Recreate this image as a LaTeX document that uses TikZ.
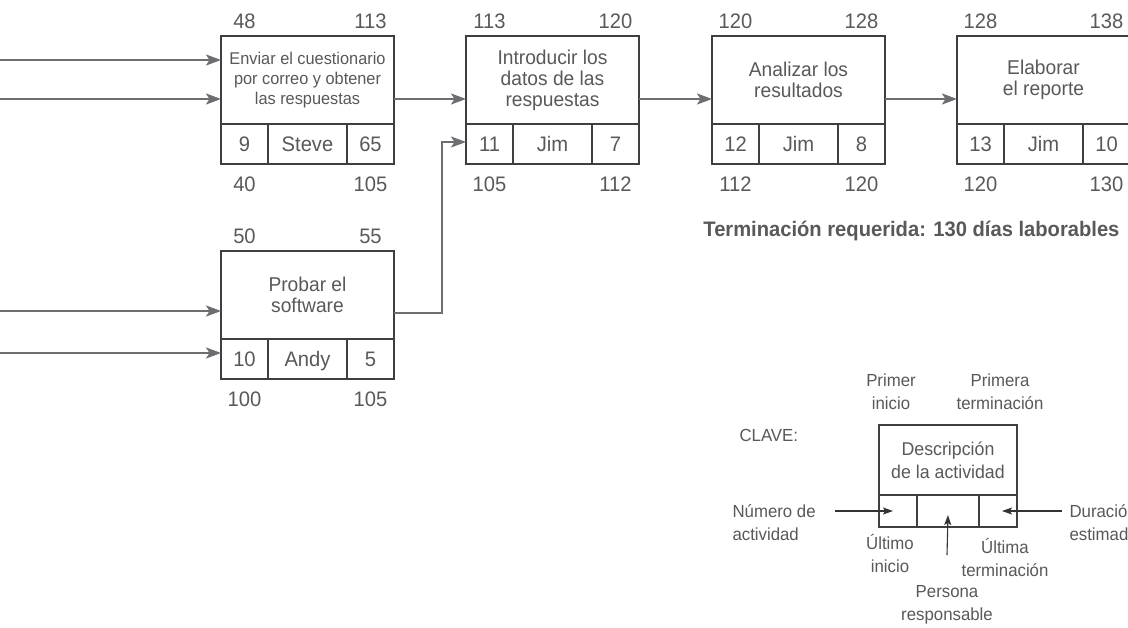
\documentclass[tikz,border=0pt]{standalone}
\usepackage{fontspec}
\setmainfont{Liberation Sans}[FakeStretch=0.96]
\usetikzlibrary{arrows.meta,calc,positioning}
\definecolor{linea}{HTML}{3F3F3F}
\definecolor{gris}{HTML}{6D6E71}
\definecolor{texto}{HTML}{58595B}

\begin{document}
\begin{tikzpicture}[x=1pt,y=-1pt,
 every node/.style={text=texto,font=\fontsize{21}{24}\selectfont},
 desc/.style={draw=linea,line width=1.6pt,minimum width=173pt,minimum height=88pt,align=center,
  inner sep=0pt,outer sep=0pt,font=\fontsize{20}{21}\selectfont},
 celda/.style={draw=linea,line width=1.6pt,minimum width=47pt,minimum height=40pt,inner sep=0pt,outer sep=0pt,
  text height=15pt,text depth=0pt},
 ancha/.style={celda,minimum width=79pt},
 flecha/.style={-{Stealth[length=15pt,width=11pt,inset=3.5pt]},draw=gris,line width=2.2pt},
 guia/.style={-{Stealth[length=10pt,width=7pt,inset=2pt]},draw=black!80,line width=1.1pt},
 nota/.style={font=\fontsize{17.5}{23}\selectfont,align=center}]
\path[fill=white] (0,0) rectangle (1128,628);
\useasboundingbox (0,0) rectangle (1128,628);
% actividades
\node[desc,font=\fontsize{17}{20}\selectfont] (envio) at (307.5,80)
 {Enviar el cuestionario\\por correo y obtener\\las respuestas};
\node[desc,right=72pt of envio] (intro) {Introducir los\\datos de las\\respuestas};
\node[desc,right=73pt of intro] (analisis) {Analizar los\\resultados};
\node[desc,right=72pt of analisis] (reporte) {Elaborar\\el reporte};
\node[desc,below=127pt of envio] (prueba) {Probar el\\software};
\foreach \b/\n/\p/\d/\ei/\ef/\ui/\uf in {envio/9/Steve/65/48/113/40/105,
  intro/11/Jim/7/113/120/105/112, analisis/12/Jim/8/120/128/112/120,
  reporte/13/Jim/10/128/138/120/130, prueba/10/Andy/5/50/55/100/105}{
 \node[celda,anchor=north west] (\b-n) at (\b.south west) {\n};
 \node[ancha,right=0pt of \b-n] (\b-p) {\p};
 \node[celda,right=0pt of \b-p] (\b-d) {\d};
 \node (\b-ei) at ($(\b-n|-\b.north)+(0,-15)$) {\ei};
 \node (\b-ef) at ($(\b-d|-\b.north)+(0,-15)$) {\ef};
 \node (\b-ui) at ($(\b-n.south)+(0,20)$) {\ui};
 \node (\b-uf) at ($(\b-d.south)+(0,20)$) {\uf};
}
\node[font=\bfseries\fontsize{21}{24}\selectfont,anchor=base east] (meta) at (1123,237)
 {Terminación requerida: 130 días laborables};
% conexiones
\coordinate (e1) at (0,60);
\coordinate (e2) at (0,99);
\coordinate (e3) at (0,311);
\coordinate (e4) at (0,353);
\draw[flecha] (e1) -- (e1-|envio.west);
\draw[flecha] (e2) -- (e2-|envio.west);
\draw[flecha] (e3) -- (e3-|prueba.west);
\draw[flecha] (e4) -- (e4-|prueba.west);
\draw[flecha] ([yshift=-19pt]envio.east) -- ([yshift=-19pt]intro.west);
\draw[flecha] ([yshift=-19pt]intro.east) -- ([yshift=-19pt]analisis.west);
\draw[flecha] ([yshift=-19pt]analisis.east) -- ([yshift=-19pt]reporte.west);
\draw[flecha] ([yshift=-18pt]prueba.east) -- ++(48,0) |- ([yshift=2pt]intro-n.west);
% clave
\node[desc,minimum width=138pt,minimum height=70pt,line width=1.3pt,font=\fontsize{18.5}{23}\selectfont]
 (clave) at (948,460) {Descripción\\de la actividad};
\node[celda,minimum width=38pt,minimum height=32pt,line width=1.3pt,anchor=north west] (clave-n) at (clave.south west) {};
\node[celda,minimum width=62pt,minimum height=32pt,line width=1.3pt,right=0pt of clave-n] (clave-p) {};
\node[celda,minimum width=38pt,minimum height=32pt,line width=1.3pt,right=0pt of clave-p] (clave-d) {};
\node[nota] (pi) at (891,392) {Primer\\inicio};
\node[nota] (pt) at (1000,392) {Primera\\terminación};
\node[nota,anchor=west] (cl) at (736,435) {CLAVE:};
\node[nota,anchor=west,align=left] (na) at (729,523) {Número de\\actividad};
\node[nota,anchor=west,align=left] (de) at (1066,523) {Duración\\estimada};
\node[nota] (ui) at (890,553) {Último\\inicio};
\node[nota] (uf) at (1005,557) {Última\\terminación};
\node[nota] (pr) at (947,605) {Persona\\responsable};
\coordinate (na-a) at (835,511);
\coordinate (de-a) at (1062,511);
\coordinate (pr-a) at (947,555);
\draw[guia] (na-a) -- ([xshift=-5pt]clave-n.center);
\draw[guia] (de-a) -- ([xshift=4pt]clave-d.center);
\draw[guia] (pr-a) -- ([yshift=-4pt]clave-p.center);
\end{tikzpicture}
\end{document}
